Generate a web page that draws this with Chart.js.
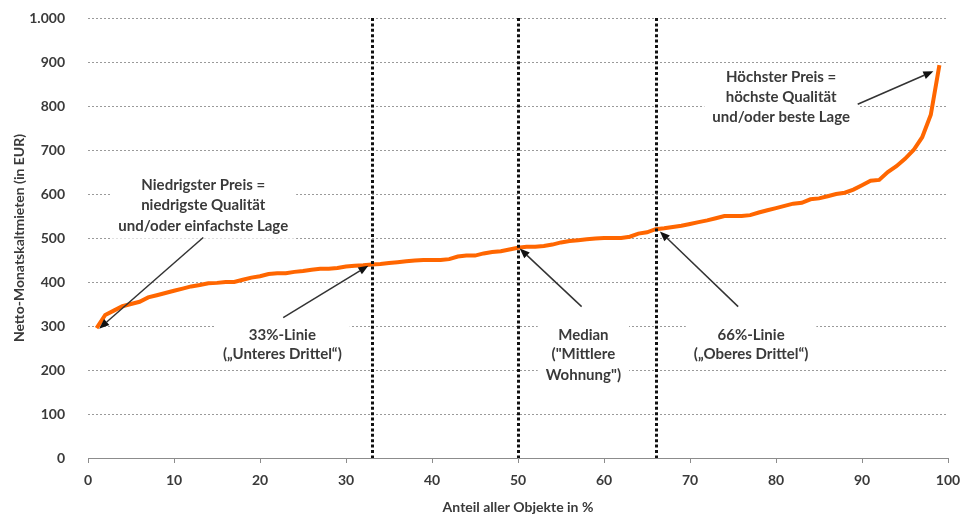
<!DOCTYPE html>
<html lang="de">
<head>
<meta charset="utf-8">
<title>Netto-Monatskaltmieten</title>
<script src="https://cdn.jsdelivr.net/npm/chart.js@4.4.1/dist/chart.umd.min.js"></script>
<style>
  html, body { margin: 0; padding: 0; background: #ffffff; }
  #wrap { width: 963px; height: 519px; }
</style>
</head>
<body>
<div id="wrap"><canvas id="c" width="963" height="519"></canvas></div>
<script>
// Anteil aller Objekte (in %)
const anteil = [
  1, 2, 3, 4, 5, 6, 7, 8, 9, 10,
  11, 12, 13, 14, 15, 16, 17, 18, 19, 20,
  21, 22, 23, 24, 25, 26, 27, 28, 29, 30,
  31, 32, 33, 34, 35, 36, 37, 38, 39, 40,
  41, 42, 43, 44, 45, 46, 47, 48, 49, 50,
  51, 52, 53, 54, 55, 56, 57, 58, 59, 60,
  61, 62, 63, 64, 65, 66, 67, 68, 69, 70,
  71, 72, 73, 74, 75, 76, 77, 78, 79, 80,
  81, 82, 83, 84, 85, 86, 87, 88, 89, 90,
  91, 92, 93, 94, 95, 96, 97, 98, 99
];

// Netto-Monatskaltmiete (EUR), aufsteigend sortiert
const miete = [
  295, 325, 335, 345, 350, 355, 365, 370, 375, 380,
  385, 390, 393, 397, 398, 400, 400, 405, 410, 413,
  418, 420, 420, 423, 425, 428, 430, 430, 432, 435,
  437, 438, 440, 441, 443, 445, 447, 449, 450, 450,
  450, 452, 458, 460, 460, 465, 468, 470, 474, 478,
  480, 480, 482, 485, 490, 493, 495, 497, 499, 500,
  500, 500, 503, 510, 513, 520, 522, 525, 528, 532,
  536, 540, 545, 550, 550, 550, 552, 558, 563, 568,
  573, 578, 580, 588, 590, 595, 600, 603, 610, 620,
  630, 632, 650, 663, 680, 700, 729, 780, 893
];

// Markierte Anteile: unteres Drittel, Median, oberes Drittel
const markierungen = [33, 50, 66];

// Achsenbeschriftungen
const yTicks = [0, 100, 200, 300, 400, 500, 600, 700, 800, 900, 1000];
const xTicks = [0, 10, 20, 30, 40, 50, 60, 70, 80, 90, 100];

// Hinweistexte mit Pfeilen (Koordinaten in Achsenwerten)
const hinweise = [
  { zeilen: ['Niedrigster Preis =', 'niedrigste Qualität', 'und/oder einfachste Lage'],
    x: 13.4, y: [620, 574, 528], von: [13.4, 501], nach: [1.3, 294] },
  { zeilen: ['33%-Linie', '(„Unteres Drittel“)'],
    x: 22.6, y: [280, 235], von: [22.7, 319], nach: [32.6, 437] },
  { zeilen: ['Median', '("Mittlere', 'Wohnung")'],
    x: 57.6, y: [280, 235, 189], von: [57.4, 344], nach: [50.2, 476] },
  { zeilen: ['66%-Linie', '(„Oberes Drittel“)'],
    x: 77.1, y: [280, 235], von: [75.6, 344], nach: [66.5, 515] },
  { zeilen: ['Höchster Preis =', 'höchste Qualität', 'und/oder beste Lage'],
    x: 80.6, y: [866, 820, 774], von: [89.5, 804], nach: [98.3, 879] }
];

const TEXT = '#3a3a3a';
const FONT = 'Lato, "Open Sans", sans-serif';

function deZahl(v) {
  const s = String(Math.round(v));
  return s.replace(/\B(?=(\d{3})+(?!\d))/g, '.');
}

// Gepunktete waagerechte Hilfslinien
const hilfslinien = {
  id: 'hilfslinien',
  beforeDatasetsDraw(chart) {
    const { ctx, chartArea, scales: { y } } = chart;
    ctx.save();
    ctx.strokeStyle = '#9a9a9a';
    ctx.lineWidth = 1;
    ctx.setLineDash([2, 2]);
    yTicks.forEach(v => {
      if (v === 0) return;
      const py = Math.round(y.getPixelForValue(v)) + 0.5;
      ctx.beginPath();
      ctx.moveTo(chartArea.left, py);
      ctx.lineTo(chartArea.right, py);
      ctx.stroke();
    });
    ctx.restore();
  }
};

// Gepunktete Senkrechten, Textkästen und Pfeile
const overlay = {
  id: 'overlay',
  afterDatasetsDraw(chart) {
    const { ctx, scales: { x, y } } = chart;
    ctx.save();

    // Senkrechte Linien
    ctx.strokeStyle = '#111111';
    ctx.lineWidth = 3;
    ctx.setLineDash([3, 2.4]);
    markierungen.forEach(m => {
      const px = Math.round(x.getPixelForValue(m)) + 0.5;
      ctx.beginPath();
      ctx.moveTo(px, y.getPixelForValue(1000));
      ctx.lineTo(px, y.getPixelForValue(0));
      ctx.stroke();
    });
    ctx.setLineDash([]);

    ctx.font = 'bold 15px ' + FONT;
    ctx.textAlign = 'center';
    ctx.textBaseline = 'middle';

    hinweise.forEach(h => {
      const cx = x.getPixelForValue(h.x);
      const ys = h.y.map(v => y.getPixelForValue(v));
      const w = Math.max(...h.zeilen.map(z => ctx.measureText(z).width));
      // weißer Hintergrund unter dem Text
      ctx.fillStyle = '#ffffff';
      ctx.fillRect(cx - w / 2 - 8, ys[0] - 13, w + 16, ys[ys.length - 1] - ys[0] + 26);
      ctx.fillStyle = TEXT;
      h.zeilen.forEach((z, i) => ctx.fillText(z, cx, ys[i]));

      // Pfeil
      const x0 = x.getPixelForValue(h.von[0]), y0 = y.getPixelForValue(h.von[1]);
      const x1 = x.getPixelForValue(h.nach[0]), y1 = y.getPixelForValue(h.nach[1]);
      const ang = Math.atan2(y1 - y0, x1 - x0);
      const len = 10, half = 4;
      const bx = x1 - len * Math.cos(ang), by = y1 - len * Math.sin(ang);
      ctx.strokeStyle = '#333333';
      ctx.lineWidth = 1.5;
      ctx.beginPath();
      ctx.moveTo(x0, y0);
      ctx.lineTo(bx, by);
      ctx.stroke();
      ctx.fillStyle = '#111111';
      ctx.beginPath();
      ctx.moveTo(x1, y1);
      ctx.lineTo(bx + half * Math.sin(ang), by - half * Math.cos(ang));
      ctx.lineTo(bx - half * Math.sin(ang), by + half * Math.cos(ang));
      ctx.closePath();
      ctx.fill();
    });

    ctx.restore();
  }
};

new Chart(document.getElementById('c'), {
  type: 'line',
  data: {
    datasets: [{
      data: anteil.map((a, i) => ({ x: a, y: miete[i] })),
      borderColor: '#ff6600',
      borderWidth: 4,
      pointRadius: 0,
      tension: 0,
      fill: false
    }]
  },
  options: {
    responsive: false,
    animation: false,
    layout: { padding: { top: 18, right: 15, bottom: 0, left: 0 } },
    plugins: { legend: { display: false }, tooltip: { enabled: false } },
    scales: {
      x: {
        type: 'linear',
        min: 0, max: 100,
        afterBuildTicks: s => { s.ticks = xTicks.map(v => ({ value: v })); },
        afterFit: s => { s.height = 61; s.paddingLeft = 0; s.paddingRight = 0; },
        border: { display: true, color: '#8c8c8c', width: 1 },
        grid: { drawOnChartArea: false, drawTicks: true, tickLength: 5, color: '#8c8c8c' },
        ticks: { color: TEXT, font: { family: FONT, size: 14, weight: 'bold' }, padding: 9, maxRotation: 0 },
        title: { display: true, text: 'Anteil aller Objekte in %', color: TEXT,
                 font: { family: FONT, size: 14, weight: 'bold' }, padding: { top: 4, bottom: 3 } }
      },
      y: {
        min: 0, max: 1000,
        afterBuildTicks: s => { s.ticks = yTicks.map(v => ({ value: v })); },
        afterFit: s => { s.width = 88; s.paddingTop = 0; s.paddingBottom = 0; },
        border: { display: false },
        grid: { display: false },
        ticks: { color: TEXT, font: { family: FONT, size: 14, weight: 'bold' }, padding: 15,
                 callback: v => deZahl(v) },
        title: { display: true, text: 'Netto-Monatskaltmieten (in EUR)', color: TEXT,
                 font: { family: FONT, size: 14, weight: 'bold' }, padding: { top: 11, bottom: 2 } }
      }
    }
  },
  plugins: [hilfslinien, overlay]
});
</script>
</body>
</html>
